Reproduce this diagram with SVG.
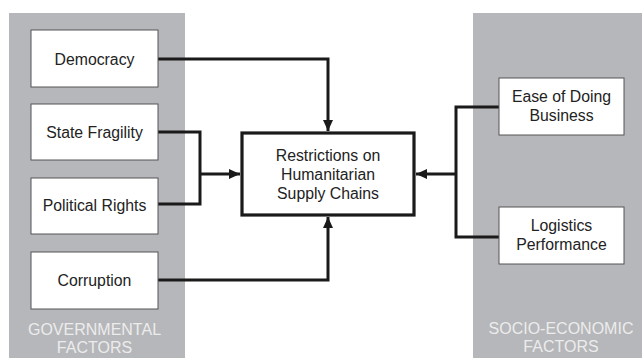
<svg xmlns="http://www.w3.org/2000/svg" width="642" height="358" viewBox="0 0 642 358">
<defs>
<style>
.panel{fill:#b6b7ba}
.box{fill:#fff;stroke:#555;stroke-width:1}
.main{fill:#fff;stroke:#1a1a1a;stroke-width:3.2}
.t{font-family:"Liberation Sans",Arial,sans-serif;font-size:15.8px;fill:#222;text-anchor:middle}
.pt{font-family:"Liberation Sans",Arial,sans-serif;font-size:16px;fill:#ececec;text-anchor:middle}
.c{fill:none;stroke:#1a1a1a;stroke-width:3}
</style>
<marker id="ah" markerUnits="userSpaceOnUse" markerWidth="12" markerHeight="12" viewBox="0 0 12 12" refX="11" refY="6" orient="auto">
<path d="M0,1 L11,6 L0,11 Z" fill="#1a1a1a"/>
</marker>
</defs>
<rect width="642" height="358" fill="#fff"/>
<g id="gov-panel">
<rect class="panel" x="9" y="13" width="176" height="345"/>
<text class="pt" x="94.5" y="335">GOVERNMENTAL</text>
<text class="pt" x="94.5" y="353">FACTORS</text>
</g>
<g id="socio-panel">
<rect class="panel" x="473" y="13" width="169" height="345"/>
<text class="pt" x="561" y="334">SOCIO-ECONOMIC</text>
<text class="pt" x="561" y="352">FACTORS</text>
</g>
<g id="connectors">
<path class="c" d="M158,59 H328 V131" marker-end="url(#ah)"/>
<path class="c" d="M158,132 H200 V204 H158"/>
<path class="c" d="M200,174 H240" marker-end="url(#ah)"/>
<path class="c" d="M158,280 H328 V217" marker-end="url(#ah)"/>
<path class="c" d="M499,107 H456 V237 H499"/>
<path class="c" d="M456,174 H416" marker-end="url(#ah)"/>
</g>
<g id="democracy">
<rect class="box" x="31" y="30" width="127" height="57"/>
<text class="t" x="94.5" y="64.5">Democracy</text>
</g>
<g id="state-fragility">
<rect class="box" x="31" y="104" width="127" height="56"/>
<text class="t" x="94.5" y="137.5">State Fragility</text>
</g>
<g id="political-rights">
<rect class="box" x="31" y="178" width="127" height="56"/>
<text class="t" x="94.5" y="210.5">Political Rights</text>
</g>
<g id="corruption">
<rect class="box" x="31" y="252" width="127" height="57"/>
<text class="t" x="94.5" y="285.5">Corruption</text>
</g>
<g id="restrictions">
<rect class="main" x="242" y="133" width="172" height="82"/>
<text class="t" x="328" y="160.5">Restrictions on</text>
<text class="t" x="328" y="179.5">Humanitarian</text>
<text class="t" x="328" y="198.5">Supply Chains</text>
</g>
<g id="ease-of-doing-business">
<rect class="box" x="499" y="78" width="125" height="57"/>
<text class="t" x="561.5" y="102">Ease of Doing</text>
<text class="t" x="561.5" y="121">Business</text>
</g>
<g id="logistics-performance">
<rect class="box" x="499" y="207" width="125" height="57"/>
<text class="t" x="561.5" y="231">Logistics</text>
<text class="t" x="561.5" y="250">Performance</text>
</g>
</svg>
